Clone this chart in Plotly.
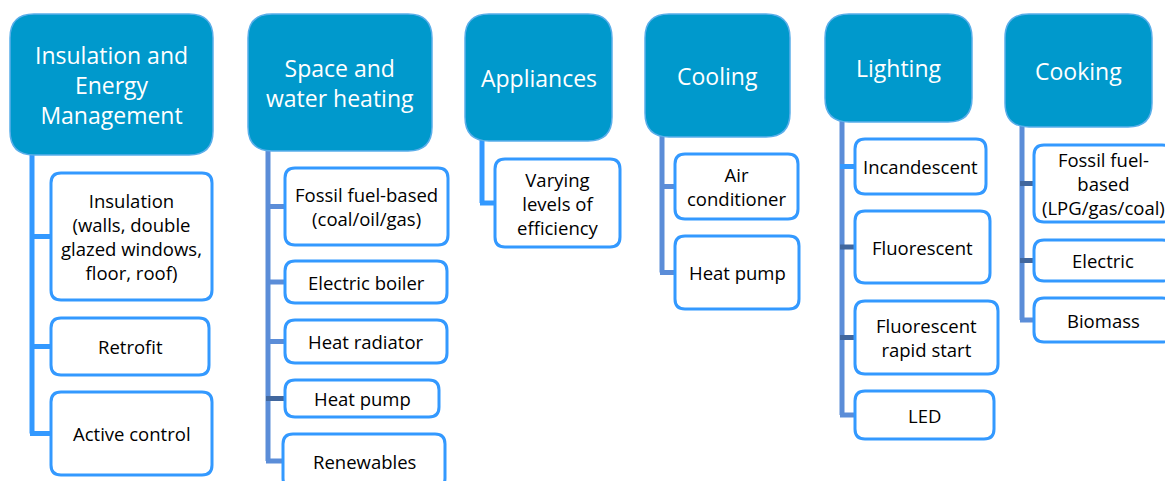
import plotly.graph_objects as go

# category headers
categories = ["Insulation and<br>Energy<br>Management", "Space and<br>water heating",
              "Appliances", "Cooling", "Lighting", "Cooking"]

# items under each category
insulation_items = ["Insulation<br>(walls, double<br>glazed windows,<br>floor, roof)", "Retrofit", "Active control"]
heating_items = ["Fossil fuel-based<br>(coal/oil/gas)", "Electric boiler", "Heat radiator", "Heat pump", "Renewables"]
appliance_items = ["Varying<br>levels of<br>efficiency"]
cooling_items = ["Air<br>conditioner", "Heat pump"]
lighting_items = ["Incandescent", "Fluorescent", "Fluorescent<br>rapid start", "LED"]
cooking_items = ["Fossil fuel-<br>based<br>(LPG/gas/coal)", "Electric", "Biomass"]

items = [insulation_items, heating_items, appliance_items, cooling_items, lighting_items, cooking_items]

# ---- layout geometry (pixels, y down) ----
W, H = 1165, 481
header_boxes = [(10, 14, 213, 155), (248, 14, 432, 151), (465, 14, 612, 141),
                (645, 14, 790, 137), (825, 14, 972, 122), (1005, 14, 1152, 127)]
spine_x = [32, 268, 482, 662, 842, 1022]
child_boxes = [
    [(51, 173, 212, 300), (51, 318, 209, 375), (51, 392, 212, 475)],
    [(285, 168, 448, 245), (285, 261, 447, 303), (285, 320, 447, 363), (285, 380, 439, 417), (283, 434, 445, 488)],
    [(495, 159, 620, 247)],
    [(675, 154, 798, 219), (675, 236, 799, 309)],
    [(855, 139, 986, 194), (855, 211, 990, 283), (855, 301, 998, 374), (855, 391, 994, 439)],
    [(1034, 145, 1172, 222), (1034, 240, 1172, 281), (1034, 298, 1172, 342)],
]

BRIGHT = "#3399FF"
STEEL = "#5B8DD8"
DARK = "#41679E"
spine_colors = [BRIGHT, STEEL, BRIGHT, STEEL, STEEL, STEEL]
connector_colors = [
    [BRIGHT, BRIGHT, BRIGHT],
    [STEEL, STEEL, STEEL, DARK, STEEL],
    [BRIGHT],
    [STEEL, STEEL],
    [BRIGHT, DARK, DARK, STEEL],
    [DARK, DARK, STEEL],
]

HEADER_FILL = "#0099CC"
HEADER_LINE = "#5AAEEA"
FONT = "Open Sans"


def rounded(x0, y0, x1, y1, r):
    return (f"M {x0+r},{y0} L {x1-r},{y0} Q {x1},{y0} {x1},{y0+r} "
            f"L {x1},{y1-r} Q {x1},{y1} {x1-r},{y1} L {x0+r},{y1} "
            f"Q {x0},{y1} {x0},{y1-r} L {x0},{y0+r} Q {x0},{y0} {x0+r},{y0} Z")


shapes = []
annotations = []

for i, cat in enumerate(categories):
    hx0, hy0, hx1, hy1 = header_boxes[i]
    sx = spine_x[i]
    boxes = child_boxes[i]
    mids = [(b[1] + b[3]) / 2 for b in boxes]

    # spine
    shapes.append(dict(type="line", x0=sx, x1=sx, y0=hy1 - 4, y1=mids[-1],
                       line=dict(color=spine_colors[i], width=5), layer="below"))
    # connectors
    for b, m, c in zip(boxes, mids, connector_colors[i]):
        shapes.append(dict(type="line", x0=sx - 2, x1=b[0], y0=m, y1=m,
                           line=dict(color=c, width=5), layer="below"))

    # header box
    shapes.append(dict(type="path", path=rounded(hx0, hy0, hx1, hy1, 24),
                       fillcolor=HEADER_FILL, line=dict(color=HEADER_LINE, width=1.5)))
    annotations.append(dict(x=(hx0 + hx1) / 2, y=(hy0 + hy1) / 2, text=cat, showarrow=False,
                            font=dict(family=FONT, size=23, color="white"), align="center"))

    # child boxes
    for b, m, label in zip(boxes, mids, items[i]):
        shapes.append(dict(type="path", path=rounded(b[0], b[1], b[2], b[3], 10),
                           fillcolor="white", line=dict(color=BRIGHT, width=3)))
        annotations.append(dict(x=(b[0] + b[2]) / 2, y=m, text=label, showarrow=False,
                                font=dict(family=FONT, size=18.5, color="black"), align="center"))

fig = go.Figure()
fig.update_layout(
    width=W, height=H,
    margin=dict(l=0, r=0, t=0, b=0),
    paper_bgcolor="white", plot_bgcolor="white",
    xaxis=dict(range=[0, W], visible=False, fixedrange=True),
    yaxis=dict(range=[H, 0], visible=False, fixedrange=True),
    shapes=shapes, annotations=annotations,
    showlegend=False,
)

# drop the default page margin so the figure sits at the window's corner
fig.write_html("out.html", config=dict(displayModeBar=False),
               post_script="document.body.style.margin='0';")
